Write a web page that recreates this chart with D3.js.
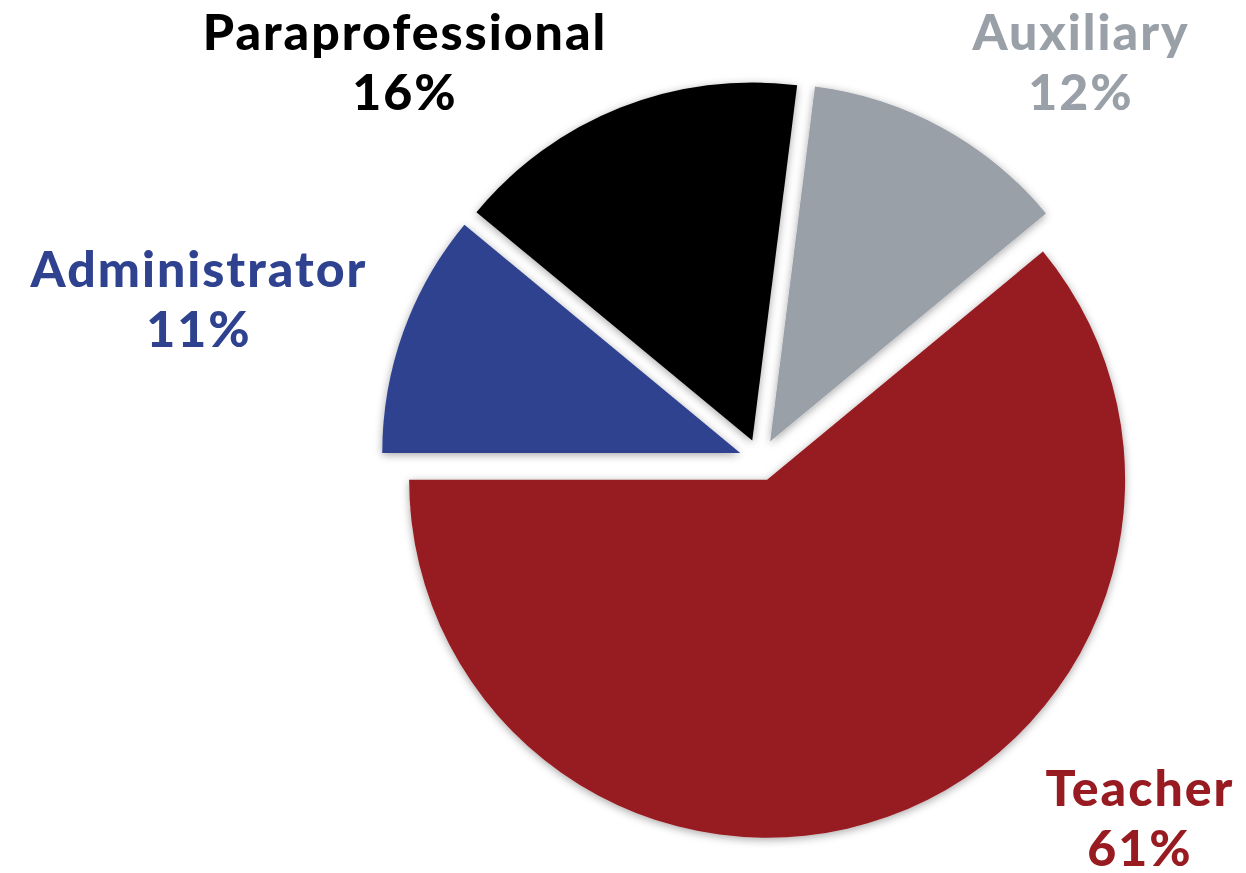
<!DOCTYPE html>
<html>
<head>
<meta charset="utf-8">
<title>Staff by category</title>
<script src="https://cdn.jsdelivr.net/npm/d3@7"></script>
<style>
body { margin:0; background:#fff; }
.label {
	font-family: "Gill Sans", "Lato", sans-serif;
	font-weight: 900;
	font-size: 50px;
	letter-spacing: 2px;
	text-anchor: middle;
}
</style>
</head>
<body>
<div id="chart"></div>
<script>

// data
var categories = ["Teacher", "Administrator", "Paraprofessional", "Auxiliary"];
var shares = [61, 11, 16, 12];
var colors = ["#971b21", "#2e4290", "#000000", "#99a0a8"];

var width = 1246, height = 873;
var cx = 760, cy = 460, radius = 358, explode = 21;

// where each label block sits (centre x, first baseline)
var labelAt = {
	"Teacher": [1140, 806],
	"Administrator": [199, 287],
	"Paraprofessional": [405, 50],
	"Auxiliary": [1081, 50]
};

var svg = d3.select("#chart").append("svg")
	.attr("width", width)
	.attr("height", height);

var defs = svg.append("defs");
var f = defs.append("filter")
	.attr("id", "shadow")
	.attr("x", "-20%").attr("y", "-20%")
	.attr("width", "140%").attr("height", "140%");
f.append("feDropShadow")
	.attr("dx", 0).attr("dy", 2)
	.attr("stdDeviation", 4)
	.attr("flood-color", "#000")
	.attr("flood-opacity", 0.35);

var rows = categories.map(function(c, i){ return {name:c, value:shares[i], color:colors[i]}; });

var start = 50.4 * Math.PI / 180;
var pie = d3.pie()
	.sort(null)
	.value(function(d){ return d.value; })
	.startAngle(start)
	.endAngle(start + 2 * Math.PI);

var arc = d3.arc().innerRadius(0).outerRadius(radius);

var g = svg.append("g")
	.attr("transform", "translate(" + cx + "," + cy + ")");

g.selectAll(".slice")
	.data(pie(rows))
	.enter().append("path")
	.attr("class", "slice")
	.attr("d", arc)
	.attr("fill", function(d){ return d.data.color; })
	.attr("filter", "url(#shadow)")
	.attr("transform", function(d){
		var a = (d.startAngle + d.endAngle) / 2;
		return "translate(" + (Math.sin(a) * explode) + "," + (-Math.cos(a) * explode) + ")";
	});

var labels = svg.selectAll(".labelgroup")
	.data(rows)
	.enter().append("g")
	.attr("class", "labelgroup")
	.attr("transform", function(d){ var p = labelAt[d.name]; return "translate(" + p[0] + "," + p[1] + ")"; });

labels.append("text")
	.attr("class", "label")
	.attr("fill", function(d){ return d.color; })
	.text(function(d){ return d.name; });

labels.append("text")
	.attr("class", "label")
	.attr("y", 60)
	.attr("fill", function(d){ return d.color; })
	.text(function(d){ return d.value + "%"; });

</script>
</body>
</html>
